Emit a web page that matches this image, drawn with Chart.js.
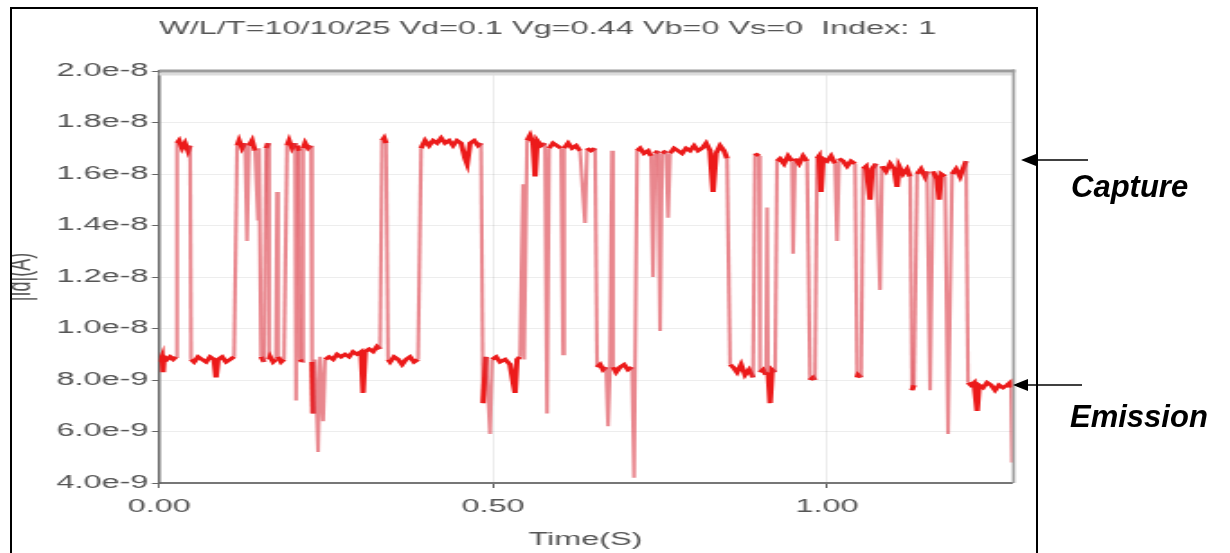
<!DOCTYPE html>
<html>
<head>
<meta charset="utf-8">
<title>RTS trace</title>
<script src="https://cdn.jsdelivr.net/npm/chart.js@4.4.1/dist/chart.umd.min.js"></script>
<style>
  html, body { margin: 0; padding: 0; background: #fff; }
  body { width: 1230px; height: 553px; position: relative; overflow: hidden; font-family: "Liberation Sans", Arial, sans-serif; }
  /* the plot is drawn narrow and stretched sideways, like the exported bitmap */
  #plot { position: absolute; left: 12px; top: 0; width: 569px; height: 553px; transform: scaleX(1.8); transform-origin: 0 0; }
  #frame { position: absolute; left: 10px; top: 7px; width: 1024px; height: 600px; border: 2px solid #000; }
  #notes { position: absolute; left: 0; top: 0; }
  #notes text { font-family: "Liberation Sans", Arial, sans-serif; font-size: 31px; font-weight: bold; font-style: italic; fill: #000; }
</style>
</head>
<body>
<div id="plot"><canvas id="rts"></canvas></div>
<div id="frame"></div>
<svg id="notes" width="1230" height="553">
  <line x1="1088" y1="160" x2="1034" y2="160" stroke="#000" stroke-width="1.6"/>
  <polygon points="1021,160 1036,154 1036,166" fill="#000"/>
  <text x="1071" y="197">Capture</text>
  <line x1="1082" y1="385" x2="1026" y2="385" stroke="#000" stroke-width="1.6"/>
  <polygon points="1013,385 1028,379 1028,391" fill="#000"/>
  <text x="1070" y="427">Emission</text>
</svg>
<script>
// drain current trace, time in s and |Id| in nA
const timeS = [
  0.0015, 0.0045, 0.0060, 0.0075, 0.0120, 0.0165, 0.0210, 0.0254,
  0.0269, 0.0299, 0.0344, 0.0389, 0.0434, 0.0464,
  0.0479, 0.0524, 0.0584, 0.0644, 0.0704, 0.0763, 0.0823, 0.0853, 0.0883, 0.0943, 0.1003, 0.1063, 0.1123,
  0.1168, 0.1198, 0.1243, 0.1287, 0.1317, 0.1347, 0.1392, 0.1437, 0.1482, 0.1497,
  0.1527, 0.1572, 0.1602, 0.1632, 0.1647, 0.1662, 0.1707, 0.1751, 0.1766, 0.1781, 0.1826, 0.1871,
  0.1916, 0.1946, 0.1991, 0.2036, 0.2051, 0.2066, 0.2096, 0.2111, 0.2141,
  0.2156, 0.2186, 0.2231, 0.2275,
  0.2290, 0.2305, 0.2335, 0.2380, 0.2410, 0.2455, 0.2485, 0.2545, 0.2605, 0.2665, 0.2725, 0.2784, 0.2844, 0.2904, 0.2964, 0.3024, 0.3054, 0.3084, 0.3144, 0.3204, 0.3263, 0.3308,
  0.3338, 0.3368, 0.3398,
  0.3428, 0.3458, 0.3518, 0.3578, 0.3638, 0.3698, 0.3757, 0.3817, 0.3877,
  0.3922, 0.3982, 0.4042, 0.4102, 0.4162, 0.4222, 0.4281, 0.4341, 0.4401, 0.4461, 0.4521, 0.4581, 0.4611, 0.4656, 0.4716, 0.4776, 0.4820,
  0.4850, 0.4895, 0.4955, 0.4985, 0.5045, 0.5105, 0.5180, 0.5254, 0.5329, 0.5359, 0.5404, 0.5449, 0.5464,
  0.5509, 0.5554, 0.5599, 0.5629, 0.5659, 0.5719, 0.5778, 0.5808, 0.5838, 0.5898, 0.5958, 0.6018, 0.6033, 0.6048, 0.6063, 0.6123, 0.6183, 0.6243, 0.6302, 0.6377, 0.6407, 0.6467, 0.6527,
  0.6557, 0.6602, 0.6647, 0.6692, 0.6722, 0.6751, 0.6781, 0.6796, 0.6841, 0.6901, 0.6961, 0.7021, 0.7081, 0.7111,
  0.7156, 0.7201, 0.7260, 0.7320, 0.7365, 0.7395, 0.7425, 0.7470, 0.7500, 0.7530, 0.7590, 0.7620, 0.7650, 0.7710, 0.7769, 0.7829, 0.7889, 0.7949, 0.8009, 0.8069, 0.8129, 0.8189, 0.8249, 0.8293, 0.8338, 0.8398, 0.8458, 0.8503,
  0.8548, 0.8593, 0.8653, 0.8713, 0.8772, 0.8832, 0.8892, 0.8922, 0.8982, 0.8997, 0.9042, 0.9087, 0.9102, 0.9117, 0.9147, 0.9177, 0.9222,
  0.9251, 0.9296, 0.9356, 0.9416, 0.9476, 0.9491, 0.9521, 0.9581, 0.9641, 0.9701,
  0.9746, 0.9790, 0.9820,
  0.9850, 0.9880, 0.9910, 0.9940, 1.0000, 1.0060, 1.0120, 1.0150, 1.0180, 1.0240, 1.0299, 1.0359, 1.0419,
  1.0449, 1.0464, 1.0509,
  1.0539, 1.0584, 1.0644, 1.0674, 1.0734, 1.0793, 1.0823, 1.0883, 1.0943, 1.1003, 1.1048, 1.1078, 1.1138, 1.1198, 1.1243,
  1.1272, 1.1302,
  1.1347, 1.1407, 1.1467, 1.1497,
  1.1542,
  1.1587, 1.1647, 1.1677, 1.1707, 1.1766,
  1.1811,
  1.1871, 1.1931, 1.1991, 1.2051, 1.2081,
  1.2111, 1.2156, 1.2201, 1.2246, 1.2275, 1.2335, 1.2395, 1.2455, 1.2515, 1.2575, 1.2635, 1.2695, 1.2740, 1.2754, 1.2769,
];

const idNA = [
  8.7, 8.9, 8.3, 8.9, 8.8, 8.9, 8.8, 8.9,
  17.2, 17.3, 17.0, 17.2, 16.9, 17.1,
  8.8, 8.7, 8.9, 8.8, 8.7, 8.9, 8.8, 8.1, 8.8, 8.9, 8.7, 8.8, 8.9,
  17.1, 17.3, 17.0, 17.2, 13.4, 17.1, 17.3, 16.9, 14.2, 17.0,
  8.9, 8.7, 17.0, 17.2, 8.8, 8.9, 8.7, 8.8, 15.3, 8.9, 8.7, 8.8,
  17.1, 17.3, 17.0, 17.2, 7.2, 17.1, 16.9, 8.8, 8.7,
  17.0, 17.2, 17.0, 17.1,
  8.7, 6.7, 8.8, 5.2, 8.9, 6.4, 8.8, 8.9, 8.8, 9.0, 8.9, 9.0, 8.9, 9.1, 9.0, 9.1, 7.5, 9.1, 9.2, 9.1, 9.3, 9.2,
  17.3, 17.4, 17.2,
  8.8, 8.7, 8.9, 8.8, 8.6, 8.8, 8.9, 8.7, 8.8,
  17.0, 17.3, 17.1, 17.3, 17.2, 17.4, 17.2, 17.3, 17.1, 17.3, 17.2, 16.6, 16.4, 17.2, 17.3, 17.1, 17.2,
  7.1, 8.9, 5.9, 8.8, 8.9, 8.7, 8.8, 8.6, 7.5, 8.8, 8.9, 15.6, 8.8,
  17.3, 17.5, 17.2, 15.9, 17.3, 17.1, 17.2, 6.7, 17.0, 17.2, 17.1, 17.0, 13.2, 9.0, 17.0, 17.2, 17.0, 17.1, 16.9, 14.1, 17.0, 16.9, 17.0,
  8.5, 8.6, 8.4, 8.5, 6.2, 8.6, 16.9, 8.5, 8.3, 8.5, 8.6, 8.4, 8.5, 4.2,
  16.9, 17.0, 16.8, 16.9, 16.7, 12.0, 16.8, 16.9, 9.9, 16.8, 16.9, 14.3, 16.8, 17.0, 16.9, 16.8, 17.0, 16.9, 17.1, 16.9, 17.0, 17.2, 16.9, 15.3, 16.8, 17.1, 16.9, 16.6,
  8.6, 8.5, 8.3, 8.6, 8.2, 8.4, 8.1, 16.8, 16.7, 8.3, 8.4, 8.2, 14.7, 8.3, 7.1, 8.4, 8.3,
  16.5, 16.6, 16.4, 16.7, 16.5, 12.9, 16.6, 16.4, 16.7, 16.5,
  8.0, 8.1, 8.0,
  16.6, 16.7, 15.3, 16.6, 16.5, 16.7, 16.4, 13.4, 16.6, 16.5, 16.3, 16.5, 16.4,
  8.1, 8.2, 8.1,
  16.2, 16.3, 15.0, 16.2, 16.4, 11.5, 16.3, 16.1, 16.4, 16.2, 15.5, 16.3, 16.0, 16.2, 15.9,
  7.6, 7.8,
  16.0, 16.2, 15.9, 16.1,
  7.6,
  16.1, 15.8, 15.0, 16.0, 15.9,
  5.9,
  16.0, 16.2, 15.9, 16.3, 16.5,
  7.9, 7.8, 7.9, 6.8, 7.8, 7.7, 7.9, 7.8, 7.6, 7.8, 7.7, 7.8, 7.9, 7.7, 4.8,
];

const xTickStep = 0.5;
const yTickStep = 2e-9;

const font = { family: 'Liberation Sans', size: 18 };
const grey = '#555';

// a jump of more than 2 nA between samples is a capture/emission edge
const isEdge = (ctx) => Math.abs(ctx.p1.parsed.y - ctx.p0.parsed.y) > 2e-9;

// dark top and right edges of the plot box
const plotFrame = {
  id: 'plotFrame',
  beforeDatasetsDraw(chart) {
    const { ctx, chartArea: a } = chart;
    ctx.save();
    ctx.fillStyle = '#dcdcdc';
    ctx.fillRect(a.left, a.top + 1.5, a.right - a.left, 3);
    ctx.fillStyle = '#9c9c9c';
    ctx.fillRect(a.left, a.top - 1.5, a.right - a.left + 1.7, 3);
    ctx.fillRect(a.right, a.top - 1.5, 1.7, a.bottom - a.top + 1.5);
    ctx.restore();
  },
};

new Chart(document.getElementById('rts'), {
  type: 'line',
  data: {
    datasets: [{
      label: '|Id|',
      data: timeS.map((t, i) => ({ x: t, y: idNA[i] * 1e-9 })),
      borderColor: '#ec1a1a',
      borderWidth: 3,
      pointRadius: 0,
      tension: 0,
      segment: {
        borderColor: (ctx) => (isEdge(ctx) ? 'rgba(220,62,72,0.62)' : undefined),
        borderWidth: (ctx) => (isEdge(ctx) ? 2.1 : undefined),
      },
    }],
  },
  options: {
    responsive: true,
    maintainAspectRatio: false,
    animation: false,
    layout: { padding: { left: 0, right: 13.4, top: 0, bottom: 0 } },
    plugins: {
      legend: { display: false },
      tooltip: { enabled: false },
      title: {
        display: true,
        text: 'W/L/T=10/10/25 Vd=0.1 Vg=0.44 Vb=0 Vs=0  Index: 1',
        color: grey,
        align: 'start',
        fullSize: false,
        font: { ...font, weight: 'normal' },
        padding: { top: 18, bottom: 31.4 },
      },
    },
    scales: {
      x: {
        type: 'linear',
        min: 0,
        max: 1.277,
        ticks: {
          stepSize: xTickStep,
          includeBounds: false,
          maxRotation: 0,
          color: grey,
          font,
          padding: 8,
          callback: (v) => v.toFixed(2),
        },
        grid: { color: 'rgba(0,0,0,0.07)', tickLength: 5, tickColor: '#666' },
        border: { color: '#777', width: 2 },
        title: { display: true, text: 'Time(S)', color: grey, font, padding: { top: 0, bottom: 2 } },
        afterFit: (scale) => { scale.height = 70; },
      },
      y: {
        min: 4e-9,
        max: 2e-8,
        ticks: {
          stepSize: yTickStep,
          color: grey,
          font,
          padding: 2,
          callback: (v) => v.toExponential(1),
        },
        grid: { color: 'rgba(0,0,0,0.07)', tickLength: 4, tickColor: '#666' },
        border: { color: '#666', width: 1.5 },
        title: { display: true, text: '|Id|(A)', color: grey, font: { ...font, lineHeight: 0.6 }, padding: 0 },
        afterFit: (scale) => { scale.width = 81.7; },
      },
    },
  },
  plugins: [plotFrame],
});
</script>
</body>
</html>
